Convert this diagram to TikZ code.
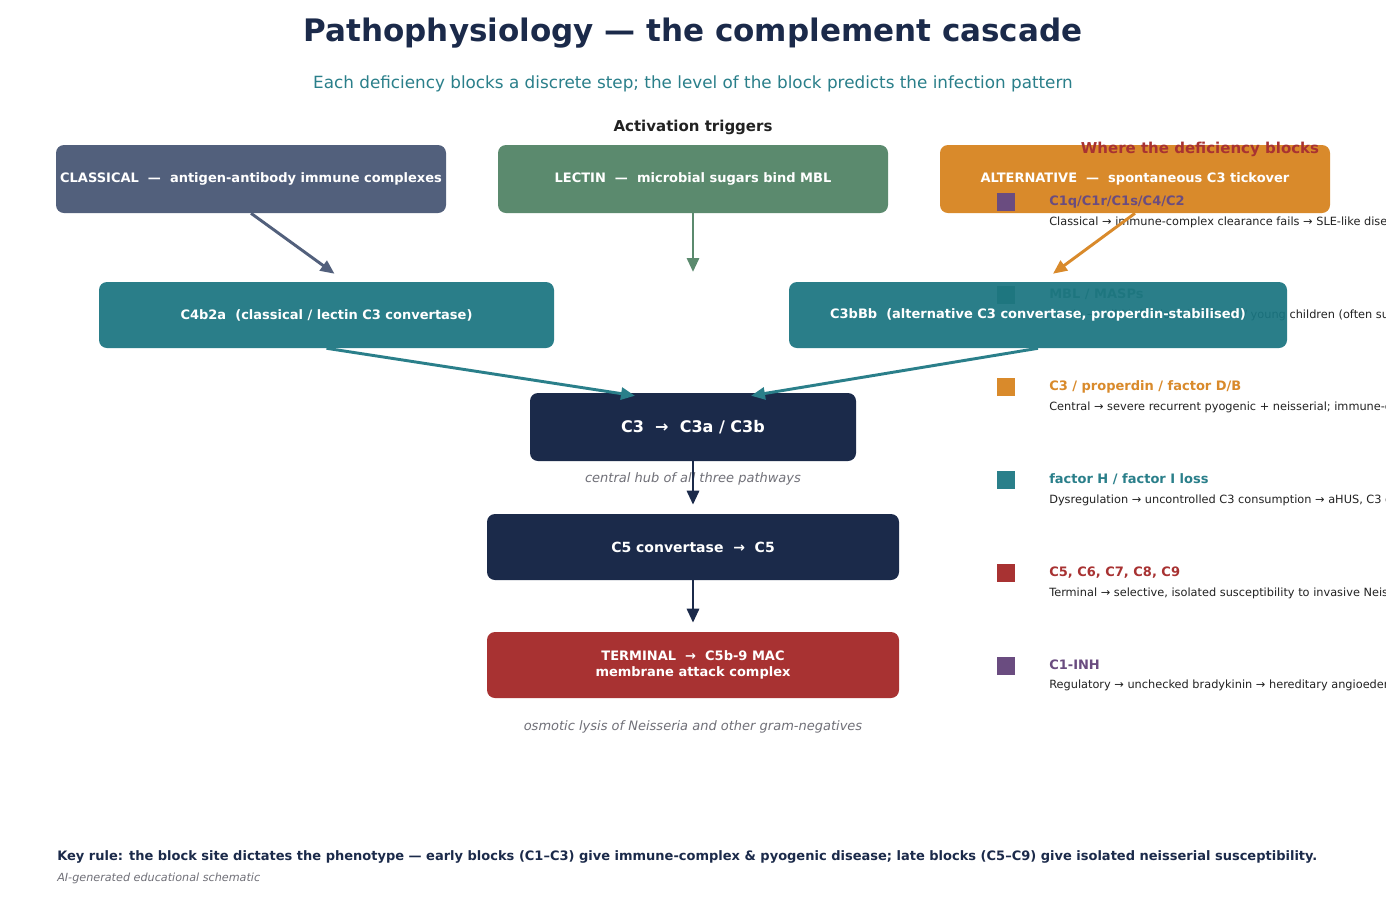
\documentclass[tikz,border=0pt]{standalone}
\usepackage{fontspec}
\setmainfont{DejaVu Sans}
\usetikzlibrary{arrows.meta,calc}
\definecolor{navy}{HTML}{1B2A4A}
\definecolor{slate}{HTML}{52607C}
\definecolor{sage}{HTML}{5B8A6E}
\definecolor{amber}{HTML}{D98A2B}
\definecolor{tealc}{HTML}{2A7F8A}
\definecolor{tealbox}{HTML}{1A7581}
\definecolor{brick}{HTML}{A83232}
\definecolor{plum}{HTML}{6A4C80}
\definecolor{capgray}{HTML}{707078}
\definecolor{txtdark}{HTML}{222222}
\tikzset{
  box/.style={rounded corners=6pt, inner sep=0pt, text=white, align=center,
    font=\bfseries\fontsize{9.75pt}{12pt}\selectfont},
  arr/.style={line width=2.2pt, -{Triangle[length=10.5pt,width=9pt]}},
  lsq/.style={rectangle, inner sep=0pt, minimum size=13.5pt, fill=#1},
  lab/.style={anchor=base west, inner sep=0pt, text=#1,
    font=\bfseries\fontsize{9.75pt}{12pt}\selectfont},
  desc/.style={anchor=base west, inner sep=0pt, text=txtdark,
    font=\fontsize{8.5pt}{10pt}\selectfont},
  capnote/.style={anchor=base, inner sep=0pt, text=capgray,
    font=\itshape\fontsize{9.75pt}{12pt}\selectfont}
}
\begin{document}
\begin{tikzpicture}[x=0.75pt,y=-0.75pt]
\useasboundingbox (0,0) rectangle (1386,901);
\clip (0,0) rectangle (1386,901);
\fill[white] (0,0) rectangle (1386,901);

% titles
\node[anchor=base, inner sep=0pt, text=navy, font=\bfseries\fontsize{23.25pt}{28pt}\selectfont] (title) at (693,41) {Pathophysiology — the complement cascade};
\node[anchor=base, inner sep=0pt, text=tealc, font=\fontsize{12.6pt}{15pt}\selectfont] (sub) at (693,88) {Each deficiency blocks a discrete step; the level of the block predicts the infection pattern};
\node[anchor=base, inner sep=0pt, text=txtdark, font=\bfseries\fontsize{11.25pt}{14pt}\selectfont] (trig) at (693,131) {Activation triggers};

% top row
\node[box, fill=slate, minimum width=292.5pt, minimum height=51pt] (cls) at (251,179) {CLASSICAL\ \ —\ \ antigen-antibody immune complexes};
\node[box, fill=sage, minimum width=292.5pt, minimum height=51pt] (lec) at (693,179) {LECTIN\ \ —\ \ microbial sugars bind MBL};
\node[box, fill=amber, minimum width=292.5pt, minimum height=51pt] (alt) at (1135,179) {ALTERNATIVE\ \ —\ \ spontaneous C3 tickover};

% legend
\node[anchor=base, inner sep=0pt, text=brick, font=\bfseries\fontsize{11.25pt}{14pt}\selectfont] (legt) at (1200,153.5) {Where the deficiency blocks};

\node[lsq=plum] (sq1) at (1006,202) {};
\node[lab=plum] (l1) at (1049,205.5) {C1q/C1r/C1s/C4/C2};
\node[desc] (d1) at (1049,225) {Classical → immune-complex clearance fails → SLE-like disease};

\node[lsq=sage] (sq2) at (1006,295) {};
\node[lab=sage] (l2) at (1049,298.5) {MBL / MASPs};
\node[desc] (d2) at (1049,318) {Lectin → mild infections in infants / young children (often subclinical)};

\node[lsq=amber] (sq3) at (1006,387) {};
\node[lab=amber] (l3) at (1049,390.5) {C3 / properdin / factor D/B};
\node[desc] (d3) at (1049,410) {Central → severe recurrent pyogenic + neisserial; immune-complex};

\node[lsq=tealc] (sq4) at (1006,480) {};
\node[lab=tealc] (l4) at (1049,483.5) {factor H / factor I loss};
\node[desc] (d4) at (1049,503) {Dysregulation → uncontrolled C3 consumption → aHUS, C3 glomerulopathy};

\node[lsq=brick] (sq5) at (1006,573) {};
\node[lab=brick] (l5) at (1049,576.5) {C5, C6, C7, C8, C9};
\node[desc] (d5) at (1049,596) {Terminal → selective, isolated susceptibility to invasive Neisseria};

\node[lsq=plum] (sq6) at (1006,666) {};
\node[lab=plum] (l6) at (1049,669.5) {C1-INH};
\node[desc] (d6) at (1049,688) {Regulatory → unchecked bradykinin → hereditary angioedema};

% convertases and cascade
\node[box, fill=tealbox, fill opacity=0.93, text opacity=1, minimum width=341.25pt, minimum height=49.5pt] (c4) at (326.5,315) {C4b2a\ \ (classical / lectin C3 convertase)};
\node[box, fill=tealbox, fill opacity=0.93, text opacity=1, minimum width=373.5pt, minimum height=49.5pt] (c3bb) at (1038,315) {C3bBb\ \ (alternative C3 convertase, properdin-stabilised)};

\node[box, fill=navy, minimum width=244.5pt, minimum height=51pt, font=\bfseries\fontsize{12pt}{14pt}\selectfont] (c3) at (693,427) {C3\ \ →\ \ C3a / C3b};
\node[capnote] (hub) at (693,482.5) {central hub of all three pathways};

\node[box, fill=navy, minimum width=309pt, minimum height=49.5pt, font=\bfseries\fontsize{10.5pt}{13pt}\selectfont] (c5) at (693,547) {C5 convertase\ \ →\ \ C5};

\node[box, fill=brick, minimum width=309pt, minimum height=49.5pt] (term) at (693,665) {TERMINAL\ \ →\ \ C5b-9 MAC\\membrane attack complex};
\node[capnote] (lysis) at (693,730.5) {osmotic lysis of Neisseria and other gram-negatives};

% footer
\node[anchor=base west, inner sep=0pt, text=navy, font=\bfseries\fontsize{9.75pt}{12pt}\selectfont] (key) at (57,860) {Key rule: the block site dictates the phenotype — early blocks (C1–C3) give immune-complex \& pyogenic disease; late blocks (C5–C9) give isolated neisserial susceptibility.};
\node[anchor=base west, inner sep=0pt, text=capgray, font=\itshape\fontsize{8.4pt}{10pt}\selectfont] (ai) at (57,881) {AI-generated educational schematic};

% connectors
\coordinate (lecend) at (693,272);
\draw[arr, draw=slate, fill=slate] (cls.south) -- ($(c4.north)+(8,-8)$);
\draw[arr, draw=sage, fill=sage] (lec.south) -- (lecend);
\draw[arr, draw=amber, fill=amber] (alt.south) -- ($(c3bb.north)+(15,-8)$);
\draw[arr, draw=tealc, fill=tealc] (c4.south) -- ($(c3.north)+(-58,3)$);
\draw[arr, draw=tealc, fill=tealc] (c3bb.south) -- ($(c3.north)+(58,3)$);
\draw[arr, draw=navy, fill=navy] (c3.south) -- ($(c5.north)+(0,-9)$);
\draw[arr, draw=navy, fill=navy] (c5.south) -- ($(term.north)+(0,-9)$);
\end{tikzpicture}
\end{document}
